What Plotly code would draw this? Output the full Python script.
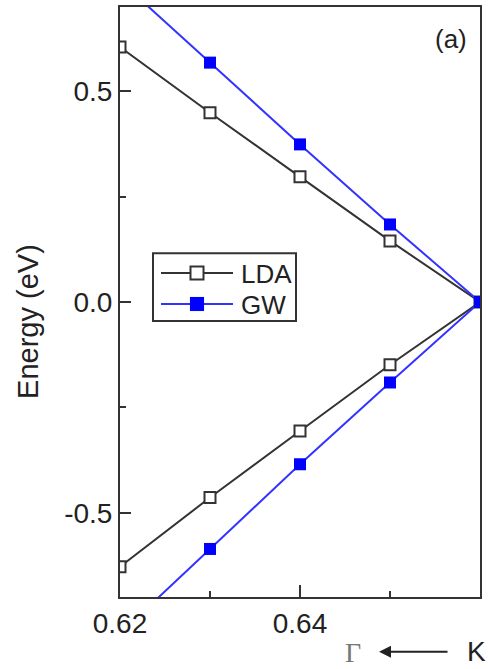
import plotly.graph_objects as go

# k-path coordinate (Gamma <- K)
k_vals = [0.62, 0.63, 0.64, 0.65, 0.66]

# energies (eV)
lda_upper = [0.605, 0.449, 0.297, 0.145, 0.0]
lda_lower = [-0.628, -0.464, -0.306, -0.149, 0.0]
gw_upper = [0.762, 0.568, 0.374, 0.184, 0.0]
gw_lower = [-0.787, -0.586, -0.385, -0.191, 0.0]

series_names = ["LDA", "GW"]

# tick labels
x_tickvals = [0.62, 0.64]
x_ticktext = ["0.62", "0.64"]
y_tickvals = [-0.5, 0.0, 0.5]
y_ticktext = ["-0.5", "0.0", "0.5"]

W, H = 488, 669
L, R, T, B = 120, 8, 5, 72
PW, PH = W - L - R, H - T - B

def px_x(px):
    return (px - L) / PW

def px_y(py):
    return (H - B - py) / PH

def branch(upper, lower):
    xs = k_vals + k_vals[::-1][1:]
    ys = upper + lower[::-1][1:]
    return xs, ys

styles = [
    dict(line="#333333", fill="white", edge="#333333", size=11, edge_w=2),
    dict(line="#3333ff", fill="#0000ff", edge="#0000ff", size=12, edge_w=0),
]

fig = go.Figure()

for name, st, (up, lo) in zip(series_names, styles,
                              [(lda_upper, lda_lower), (gw_upper, gw_lower)]):
    xs, ys = branch(up, lo)
    fig.add_trace(go.Scatter(
        x=xs, y=ys, name=name, mode="lines+markers", showlegend=False,
        line=dict(color=st["line"], width=2),
        marker=dict(symbol="square", size=st["size"], color=st["fill"],
                    line=dict(color=st["edge"], width=st["edge_w"])),
    ))

font_main = "Liberation Sans, Arial, sans-serif"

fig.update_layout(
    width=W, height=H,
    margin=dict(l=L, r=R, t=T, b=B),
    paper_bgcolor="white", plot_bgcolor="white",
    font=dict(family=font_main, size=28, color="#222222"),
    showlegend=False,
    xaxis=dict(
        range=[0.62, 0.66], showgrid=False, zeroline=False,
        showline=True, linecolor="#333333", linewidth=2, mirror=True,
        ticks="inside", ticklen=12, tickwidth=2, tickcolor="#333333",
        tickvals=x_tickvals, ticktext=x_ticktext,
        minor=dict(ticks="inside", ticklen=6, tickwidth=2, tickcolor="#333333", dtick=0.01, tick0=0.62),
        tickfont=dict(size=28),
    ),
    yaxis=dict(
        range=[-0.7, 0.7], showgrid=False, zeroline=False,
        showline=True, linecolor="#333333", linewidth=2, mirror=True,
        ticks="inside", ticklen=11, tickwidth=2, tickcolor="#333333",
        tickvals=y_tickvals, ticktext=y_ticktext,
        minor=dict(ticks="inside", ticklen=6, tickwidth=2, tickcolor="#333333", dtick=0.25, tick0=0),
        tickfont=dict(size=28),
    ),
)

# custom legend box (decoration)
fig.add_shape(type="rect", xref="paper", yref="paper",
              x0=px_x(153), x1=px_x(296), y0=px_y(252), y1=px_y(320),
              line=dict(color="#333333", width=2), fillcolor="white", layer="above")
row_y = [272, 303]
for name, st, ry in zip(series_names, styles, row_y):
    fig.add_shape(type="line", xref="paper", yref="paper",
                  x0=px_x(161), x1=px_x(233), y0=px_y(ry), y1=px_y(ry),
                  line=dict(color=st["line"], width=2), layer="above")
    half = 6.5 if st["edge_w"] else 7
    fig.add_shape(type="rect", xref="paper", yref="paper",
                  x0=px_x(197 - half), x1=px_x(197 + half),
                  y0=px_y(ry - half), y1=px_y(ry + half),
                  fillcolor=st["fill"],
                  line=dict(color=st["edge"], width=st["edge_w"] if st["edge_w"] else 0.1),
                  layer="above")
    fig.add_annotation(xref="paper", yref="paper", x=px_x(239), y=px_y(ry + 1),
                       xanchor="left", yanchor="middle", text=name, showarrow=False,
                       font=dict(size=26, family=font_main, color="#222222"))

fig.add_annotation(xref="paper", yref="paper", x=px_x(28), y=px_y(321),
                   text="Energy (eV)", textangle=-90, showarrow=False,
                   xanchor="center", yanchor="middle",
                   font=dict(size=29, family=font_main, color="#222222"))
fig.add_annotation(xref="paper", yref="paper", x=px_x(451), y=px_y(37),
                   xanchor="center", yanchor="middle",
                   text="(a)", showarrow=False, font=dict(size=26, family=font_main, color="#222222"))
fig.add_annotation(xref="paper", yref="paper", x=px_x(353), y=px_y(653),
                   xanchor="center", yanchor="middle",
                   text="Γ", showarrow=False,
                   font=dict(size=28, family="Liberation Serif, DejaVu Serif, serif", color="#777777"))
fig.add_annotation(xref="paper", yref="paper", x=px_x(476), y=px_y(652),
                   xanchor="center", yanchor="middle",
                   text="K", showarrow=False, font=dict(size=28, family=font_main, color="#222222"))
fig.add_annotation(xref="paper", yref="paper", x=px_x(379), y=px_y(652),
                   ax=70, ay=0, axref="pixel", ayref="pixel",
                   text="", showarrow=True, arrowhead=2, arrowsize=1.2, arrowwidth=2,
                   arrowcolor="#222222")

fig.write_html("out.html")
